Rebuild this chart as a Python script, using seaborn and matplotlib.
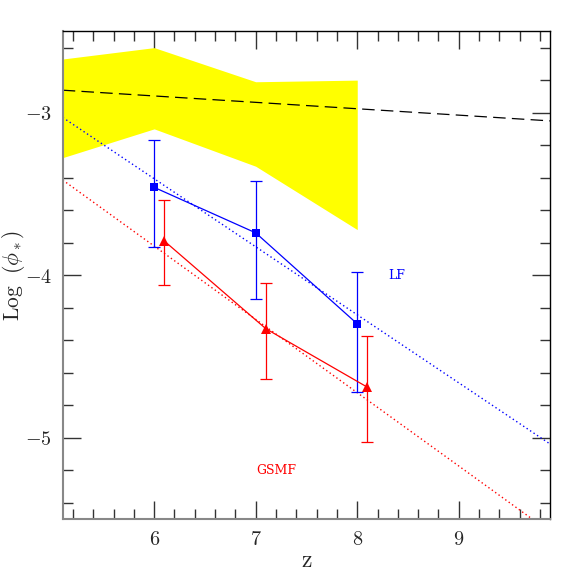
import numpy as np
import pandas as pd
import seaborn as sns
import matplotlib.pyplot as plt

# LF points (blue squares)
lf_z = [6.0, 7.0, 8.0]
lf_phi = [-3.46, -3.74, -4.30]
lf_err_hi = [-3.17, -3.42, -3.98]
lf_err_lo = [-3.83, -4.15, -4.72]

# GSMF points (red triangles)
gsmf_z = [6.1, 7.1, 8.1]
gsmf_phi = [-3.79, -4.33, -4.69]
gsmf_err_hi = [-3.54, -4.05, -4.375]
gsmf_err_lo = [-4.06, -4.64, -5.03]

# dotted fits (end points)
lf_fit_z = [5.1, 9.9]
lf_fit_phi = [-3.03, -5.04]
gsmf_fit_z = [5.1, 9.72]
gsmf_fit_phi = [-3.415, -5.5]

# dashed reference line
dash_z = [5.1, 9.9]
dash_phi = [-2.862, -3.051]

# yellow band
band_z = [5.1, 6.0, 7.0, 8.0]
band_hi = [-2.67, -2.60, -2.81, -2.80]
band_lo = [-3.277, -3.10, -3.33, -3.72]

sns.set_theme(style="ticks")
plt.rcParams['font.family'] = ['DejaVu Serif']
plt.rcParams['mathtext.fontset'] = 'cm'

fig = plt.figure(figsize=(5.81, 5.81), dpi=100)
ax = fig.add_axes([0.108, 0.107, 0.839, 0.839])

ax.fill_between(band_z, band_lo, band_hi, color='yellow', linewidth=0, zorder=1)

sns.lineplot(x=dash_z, y=dash_phi, ax=ax, color='black', lw=0.9,
             dashes=False, zorder=2).lines[-1].set_dashes([10, 5])
ax.plot(lf_fit_z, lf_fit_phi, color='blue', lw=1.0, ls=(0, (1, 2)), zorder=2)
ax.plot(gsmf_fit_z, gsmf_fit_phi, color='red', lw=1.0, ls=(0, (1, 2)), zorder=2)

lf = pd.DataFrame({'z': lf_z, 'phi': lf_phi})
gs = pd.DataFrame({'z': gsmf_z, 'phi': gsmf_phi})

ax.errorbar(lf_z, lf_phi,
            yerr=[np.array(lf_phi) - np.array(lf_err_lo), np.array(lf_err_hi) - np.array(lf_phi)],
            fmt='none', ecolor='blue', elinewidth=0.9, capsize=4, capthick=0.9, zorder=3)
ax.errorbar(gsmf_z, gsmf_phi,
            yerr=[np.array(gsmf_phi) - np.array(gsmf_err_lo), np.array(gsmf_err_hi) - np.array(gsmf_phi)],
            fmt='none', ecolor='red', elinewidth=0.9, capsize=4, capthick=0.9, zorder=3)

sns.lineplot(data=lf, x='z', y='phi', ax=ax, color='blue', lw=0.9, marker='s',
             markersize=6, markeredgewidth=0, zorder=4)
sns.lineplot(data=gs, x='z', y='phi', ax=ax, color='red', lw=0.9, marker='^',
             markersize=7, markeredgewidth=0, zorder=4)

ax.text(8.39, -4.0, 'LF', color='blue', fontsize=9, ha='center', va='center')
ax.text(7.2, -5.2, 'GSMF', color='red', fontsize=9, ha='center', va='center')

ax.set_xlim(5.1, 9.9)
ax.set_ylim(-5.5, -2.5)
ax.set_xticks([6, 7, 8, 9])
ax.set_xticks(np.arange(5.2, 9.9, 0.2), minor=True)
ax.set_yticks([-5, -4, -3])
ax.set_yticklabels([r'$-5$', r'$-4$', r'$-3$'])
ax.set_xticklabels([r'$6$', r'$7$', r'$8$', r'$9$'])
ax.set_yticks(np.arange(-5.4, -2.5, 0.2), minor=True)
ax.tick_params(which='both', direction='in', top=True, right=True, labelsize=14.5, color='#333333')
ax.tick_params(which='major', length=13, width=1, pad=8)
ax.tick_params(which='minor', length=7, width=1)

for s in ['left', 'bottom']:
    ax.spines[s].set_color('#888888')
    ax.spines[s].set_linewidth(1.5)
for s in ['top', 'right']:
    ax.spines[s].set_color('black')
    ax.spines[s].set_linewidth(1.0)

ax.set_xlabel(r'$\mathrm{z}$', fontsize=17, va='center')
ax.set_ylabel(r'$\mathrm{Log}\ \ (\phi_*)$', fontsize=15.5, va='center')
ax.xaxis.set_label_coords(0.5, -0.085)
ax.yaxis.set_label_coords(-0.102, 0.5)

fig.savefig('out.png', dpi=100)
